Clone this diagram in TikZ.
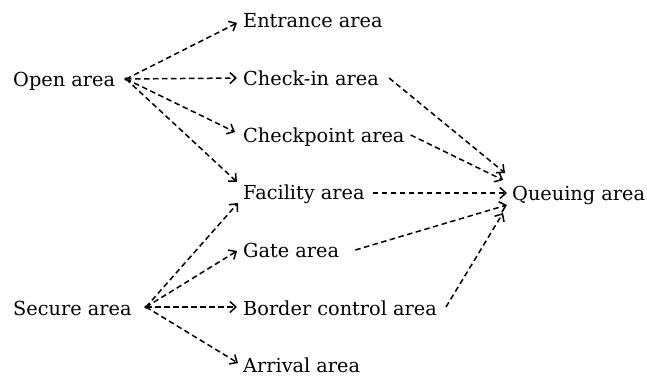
\documentclass[tikz,border=0pt]{standalone}
\usepackage{fontspec}
\setmainfont{DejaVu Serif}
\usetikzlibrary{arrows.meta,calc}
\begin{document}
\begin{tikzpicture}[x=1pt,y=-1pt,
  area/.style={inner sep=0pt,anchor=base west,font=\fontsize{19.3}{23}\selectfont},
  hub/.style={circle,fill=black,inner sep=0pt,minimum size=3.6pt},
  flow/.style={draw=black,line width=1.5pt,dash pattern=on 5.5pt off 3.5pt,
    -{Straight Barb[length=6pt,width=11pt,line width=1.5pt]}}]
  \useasboundingbox (0,0) rectangle (647,376);

  % sources
  \node[area] (open)   at (13,86)  {Open area};
  \node[area] (secure) at (13,315) {Secure area};
  \node[hub]  (od) at (126,79)  {};
  \node[hub]  (sd) at (146,307) {};

  % intermediate areas
  \node[area] (ent) at (243,27)  {Entrance area};
  \node[area] (chk) at (243,85)  {Check-in area};
  \node[area] (cpt) at (243,142) {Checkpoint area};
  \node[area] (fac) at (243,199) {Facility area};
  \node[area] (gat) at (243,257) {Gate area};
  \node[area] (bor) at (243,315) {Border control area};
  \node[area] (arr) at (243,372) {Arrival area};

  % sink
  \node[area] (que) at (512,200) {Queuing area};

  % open area fan-out
  \draw[flow] (od.center) -- ($(ent.base west)+(-6,-4)$);
  \draw[flow] (od.center) -- ($(chk.base west)+(-6,-7)$);
  \draw[flow] (od.center) -- ($(cpt.base west)+(-8,-10)$);
  \draw[flow] (od.center) -- ($(fac.base west)+(-6,-17)$);

  % secure area fan-out
  \draw[flow] (sd.center) -- ($(fac.base west)+(-5,4)$);
  \draw[flow] (sd.center) -- ($(gat.base west)+(-6,-6)$);
  \draw[flow] (sd.center) -- ($(bor.base west)+(-6,-8)$);
  \draw[flow] (sd.center) -- ($(arr.base west)+(-5,-9)$);

  % fan-in to the queuing area
  \draw[flow] ($(chk.base east)+(10,-7)$) -- ($(que.base west)+(-7,-27)$);
  \draw[flow] ($(cpt.base east)+(6,-7)$)  -- ($(que.base west)+(-9,-20)$);
  \draw[flow] ($(fac.base east)+(8,-6)$)  -- ($(que.base west)+(-5,-7)$);
  \draw[flow] ($(gat.base east)+(16,-7)$) -- ($(que.base west)+(-5,5)$);
  \draw[flow] ($(bor.base east)+(9,-8)$)  -- ($(que.base west)+(-9,13)$);
\end{tikzpicture}
\end{document}
